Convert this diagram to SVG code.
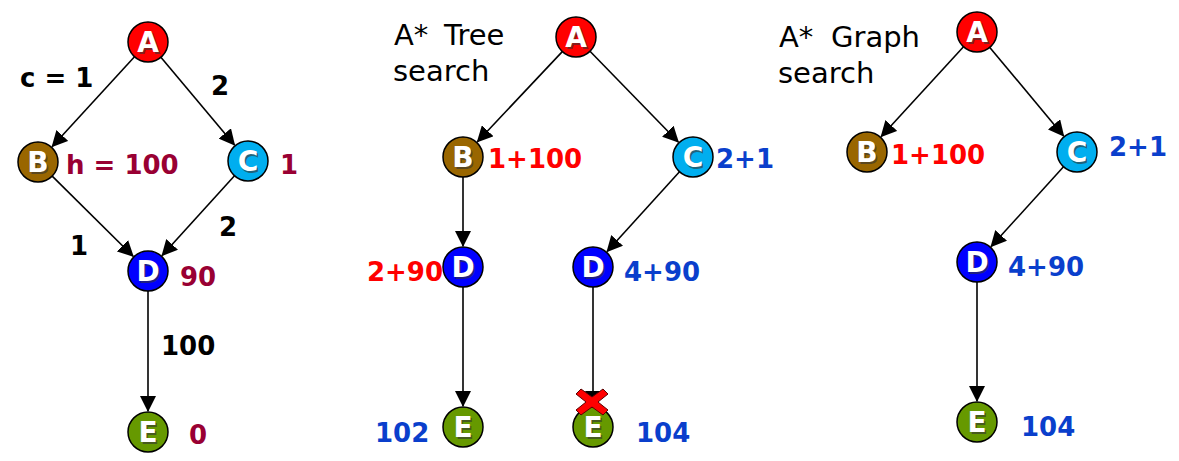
<svg xmlns="http://www.w3.org/2000/svg" width="1179" height="461" viewBox="0 0 1179 461">
<style>
.edge{stroke:#000;stroke-width:1.6;fill:none;marker-end:url(#ah)}
.node circle{stroke:#000;stroke-width:1.5}
.lt{font-family:"DejaVu Sans",Verdana,sans-serif;font-weight:bold;font-size:28px;fill:#fff;text-anchor:middle}
.sh{font-family:"DejaVu Sans",Verdana,sans-serif;font-weight:bold;font-size:28px;fill:#333;text-anchor:middle;opacity:0.6}
.lab{font-family:"DejaVu Sans",Verdana,sans-serif;font-weight:bold;font-size:26px}
.blk{fill:#000}.mar{fill:#990033}.red{fill:#ff0000}.blu{fill:#0a3fcc}
.ttl{font-family:"DejaVu Sans",Verdana,sans-serif;font-size:29px;fill:#000}
.A{fill:#ff0000}.B{fill:#996600}.C{fill:#00aeef}.D{fill:#0000ff}.E{fill:#669900}
</style>
<defs>
<marker id="ah" markerUnits="userSpaceOnUse" markerWidth="16" markerHeight="16" viewBox="0 0 16 16" refX="15" refY="8" orient="auto">
<path d="M0,0 L16,8 L0,16 Z" fill="#000"/>
</marker>
</defs>

<g id="connectors">
<line class="edge" x1="134.5" y1="56.7" x2="52.2" y2="146.5"/>
<line class="edge" x1="160.9" y1="57.3" x2="234.5" y2="144.9"/>
<line class="edge" x1="52.2" y1="176.1" x2="133.1" y2="256.2"/>
<line class="edge" x1="234.5" y1="175.8" x2="162.1" y2="255.5"/>
<line class="edge" x1="148" y1="291" x2="148" y2="411"/>

<line class="edge" x1="562.3" y1="51.6" x2="477.4" y2="141.7"/>
<line class="edge" x1="590" y1="51.3" x2="678.3" y2="142"/>
<line class="edge" x1="463" y1="177" x2="463" y2="246"/>
<line class="edge" x1="679.5" y1="171.8" x2="607.1" y2="251.5"/>
<line class="edge" x1="463" y1="287" x2="463" y2="406"/>
<line class="edge" x1="593" y1="287" x2="593" y2="406"/>

<line class="edge" x1="963.5" y1="46.7" x2="881.2" y2="136.5"/>
<line class="edge" x1="989.8" y1="47.4" x2="1063.6" y2="135.9"/>
<line class="edge" x1="1063.5" y1="166.8" x2="991.1" y2="246.5"/>
<line class="edge" x1="977" y1="282" x2="977" y2="401"/>
</g>

<!-- Left graph -->
<g id="L_A" class="node"><circle class="A" cx="148" cy="42" r="20"/><text class="sh" x="149.5" y="53.5">A</text><text class="lt" x="148" y="52">A</text></g>
<g id="L_B" class="node"><circle class="B" cx="38" cy="162" r="20"/><text class="sh" x="39.5" y="173.5">B</text><text class="lt" x="38" y="172">B</text></g>
<g id="L_C" class="node"><circle class="C" cx="248" cy="161" r="20"/><text class="sh" x="249.5" y="172.5">C</text><text class="lt" x="248" y="171">C</text></g>
<g id="L_D" class="node"><circle class="D" cx="148" cy="271" r="20"/><text class="sh" x="149.5" y="282.5">D</text><text class="lt" x="148" y="281">D</text></g>
<g id="L_E" class="node"><circle class="E" cx="148" cy="432" r="20"/><text class="sh" x="149.5" y="443.5">E</text><text class="lt" x="148" y="442">E</text></g>

<g id="L_labels" class="lab">
<text class="blk" x="20" y="87" xml:space="preserve">c = 1</text>
<text class="blk" x="211" y="95">2</text>
<text class="mar" x="66" y="174" xml:space="preserve">h = 100</text>
<text class="mar" x="280" y="174">1</text>
<text class="blk" x="70" y="255">1</text>
<text class="blk" x="219" y="236">2</text>
<text class="mar" x="180" y="286">90</text>
<text class="blk" x="161" y="355">100</text>
<text class="mar" x="189" y="444">0</text>
</g>

<!-- Middle: tree search -->
<g id="T_title"><text class="ttl" x="394" y="45">A*<tspan x="444">Tree</tspan></text><text class="ttl" x="393" y="81">search</text></g>
<g id="T_A" class="node"><circle class="A" cx="576" cy="37" r="20"/><text class="sh" x="577.5" y="48.5">A</text><text class="lt" x="576" y="47">A</text></g>
<g id="T_B" class="node"><circle class="B" cx="463" cy="157" r="20"/><text class="sh" x="464.5" y="168.5">B</text><text class="lt" x="463" y="167">B</text></g>
<g id="T_C" class="node"><circle class="C" cx="693" cy="157" r="20"/><text class="sh" x="694.5" y="168.5">C</text><text class="lt" x="693" y="167">C</text></g>
<g id="T_D1" class="node"><circle class="D" cx="463" cy="267" r="20"/><text class="sh" x="464.5" y="278.5">D</text><text class="lt" x="463" y="277">D</text></g>
<g id="T_D2" class="node"><circle class="D" cx="593" cy="267" r="20"/><text class="sh" x="594.5" y="278.5">D</text><text class="lt" x="593" y="277">D</text></g>
<g id="T_E1" class="node"><circle class="E" cx="463" cy="427" r="20"/><text class="sh" x="464.5" y="438.5">E</text><text class="lt" x="463" y="437">E</text></g>
<g id="T_E2" class="node"><circle class="E" cx="593" cy="427" r="20"/><text class="sh" x="594.5" y="438.5">E</text><text class="lt" x="593" y="437">E</text></g>
<g id="T_cross"><polygon points="576,394 581,389 592,397 603,389 608,394 598,402 608,410 603,415 592,407 581,415 576,410 586,402" fill="#ff0000" stroke="#5a0000" stroke-width="1"/></g>
<g id="T_labels" class="lab">
<text class="red" x="488" y="168">1+100</text>
<text class="blu" x="716" y="168">2+1</text>
<text class="red" x="443" y="281" text-anchor="end">2+90</text>
<text class="blu" x="624" y="281">4+90</text>
<text class="blu" x="375" y="442">102</text>
<text class="blu" x="636" y="442">104</text>
</g>

<!-- Right: graph search -->
<g id="G_title"><text class="ttl" x="779" y="47">A*<tspan x="831">Graph</tspan></text><text class="ttl" x="778" y="83">search</text></g>
<g id="G_A" class="node"><circle class="A" cx="977" cy="32" r="20"/><text class="sh" x="978.5" y="43.5">A</text><text class="lt" x="977" y="42">A</text></g>
<g id="G_B" class="node"><circle class="B" cx="867" cy="152" r="20"/><text class="sh" x="868.5" y="163.5">B</text><text class="lt" x="867" y="162">B</text></g>
<g id="G_C" class="node"><circle class="C" cx="1077" cy="152" r="20"/><text class="sh" x="1078.5" y="163.5">C</text><text class="lt" x="1077" y="162">C</text></g>
<g id="G_D" class="node"><circle class="D" cx="977" cy="262" r="20"/><text class="sh" x="978.5" y="273.5">D</text><text class="lt" x="977" y="272">D</text></g>
<g id="G_E" class="node"><circle class="E" cx="977" cy="422" r="20"/><text class="sh" x="978.5" y="433.5">E</text><text class="lt" x="977" y="432">E</text></g>
<g id="G_labels" class="lab">
<text class="red" x="891" y="164">1+100</text>
<text class="blu" x="1109" y="156">2+1</text>
<text class="blu" x="1008" y="276">4+90</text>
<text class="blu" x="1021" y="436">104</text>
</g>
</svg>
